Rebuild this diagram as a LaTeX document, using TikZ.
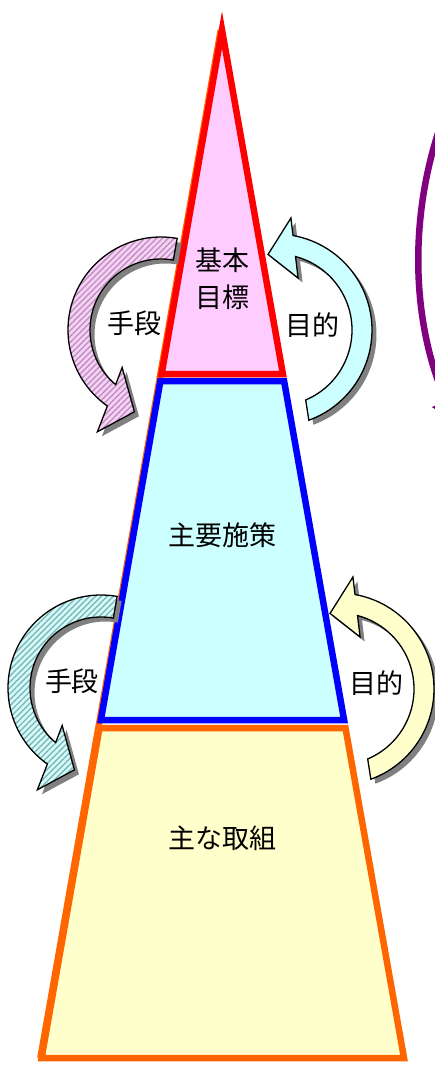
\documentclass[tikz,border=0pt]{standalone}
\usepackage{fontspec}
\newfontfamily\jpfont{Noto Sans CJK JP}
\usetikzlibrary{patterns.meta,arrows.meta}
\definecolor{pinkF}{HTML}{FFCCFF}
\definecolor{cyanF}{HTML}{CCFFFF}
\definecolor{yelF}{HTML}{FFFFCC}
\definecolor{orangeL}{HTML}{FF6600}
\definecolor{purpleL}{HTML}{800080}
\definecolor{shadowG}{HTML}{808080}
\definecolor{stripeP}{HTML}{B09AB0}
\definecolor{stripeC}{HTML}{90B0B0}
\newcommand\ShudanShape{(80:71) arc[start angle=80,end angle=230.3,radius=71] -- (224:54) -- (252:86) -- (238:120) -- (234.8:93) arc[start angle=234.8,end angle=80,radius=93] -- cycle}
\newcommand\MokutekiShape{(-67:76) arc[start angle=-67,end angle=75.1,radius=76] -- (67:56.5) -- (96:76) -- (82.4:113) -- (79.8:96) arc[start angle=79.8,end angle=-70,radius=96] -- cycle}
\tikzset{
  lbl/.style={font=\jpfont\fontsize{27}{37}\selectfont, inner sep=0pt, align=center},
  tier/.style={line width=6.5pt, line join=miter},
  arrowline/.style={draw=black, line width=1.3pt, line join=miter},
  arrowshadow/.style={fill=shadowG, shift={(4.5,-4.5)}},
}
\begin{document}
\begin{tikzpicture}[x=1pt,y=1pt]
\useasboundingbox (0,0) rectangle (435,-1066);
% thin orange fringe along the left edge of the pyramid
\coordinate (apexL) at (220.8,-30);
\coordinate (baseL) at (40.4,-1058);
\draw[orangeL, line width=6.5pt] (apexL) -- (baseL);
% tiers
\draw[tier, fill=yelF, draw=orangeL] (99.5,-728) -- (345.5,-728) -- (404,-1058) -- (41.6,-1058) -- cycle;
\draw[tier, fill=cyanF, draw=blue] (160.4,-381) -- (284.1,-381) -- (344.1,-720) -- (100.9,-720) -- cycle;
\draw[tier, fill=pinkF, draw=red] (222,-30) -- (282.9,-374) -- (161.6,-374) -- cycle;
\node[lbl] (kihon) at (222,-279) {基本\\目標};
\node[lbl] (shisaku) at (222,-535) {主要施策};
\node[lbl] (torikumi) at (222,-838) {主な取組};
% purple arc (mostly outside the picture)
\begin{scope}
\clip (0,0) rectangle (435,-1066);
\draw[purpleL, line width=6.5pt, -{Triangle[length=20pt,width=30pt]}] (819,-255) ++(160:400) arc[start angle=160,end angle=204.2,radius=400];
\end{scope}
% upper means arrow
\begin{scope}[shift={(161,-330)}]
\fill[arrowshadow] \ShudanShape;
\fill[pinkF] \ShudanShape;
\fill[pattern={Lines[angle=45,distance=4.2pt,line width=1.4pt]}, pattern color=stripeP] \ShudanShape;
\draw[arrowline] \ShudanShape;
\end{scope}
% lower means arrow
\begin{scope}[shift={(101,-688)}]
\fill[arrowshadow] \ShudanShape;
\fill[cyanF] \ShudanShape;
\fill[pattern={Lines[angle=45,distance=4.2pt,line width=1.4pt]}, pattern color=stripeC] \ShudanShape;
\draw[arrowline] \ShudanShape;
\end{scope}
% upper purpose arrow
\begin{scope}[shift={(276,-330)}]
\fill[arrowshadow] \MokutekiShape;
\fill[cyanF] \MokutekiShape;
\draw[arrowline] \MokutekiShape;
\end{scope}
% lower purpose arrow
\begin{scope}[shift={(338,-689)}]
\fill[arrowshadow] \MokutekiShape;
\fill[yelF] \MokutekiShape;
\draw[arrowline] \MokutekiShape;
\end{scope}
\node[lbl] (shudan1) at (134,-323) {手段};
\node[lbl] (mokuteki1) at (312,-325) {目的};
\node[lbl] (shudan2) at (72,-681) {手段};
\node[lbl] (mokuteki2) at (376,-683) {目的};
\end{tikzpicture}
\end{document}
